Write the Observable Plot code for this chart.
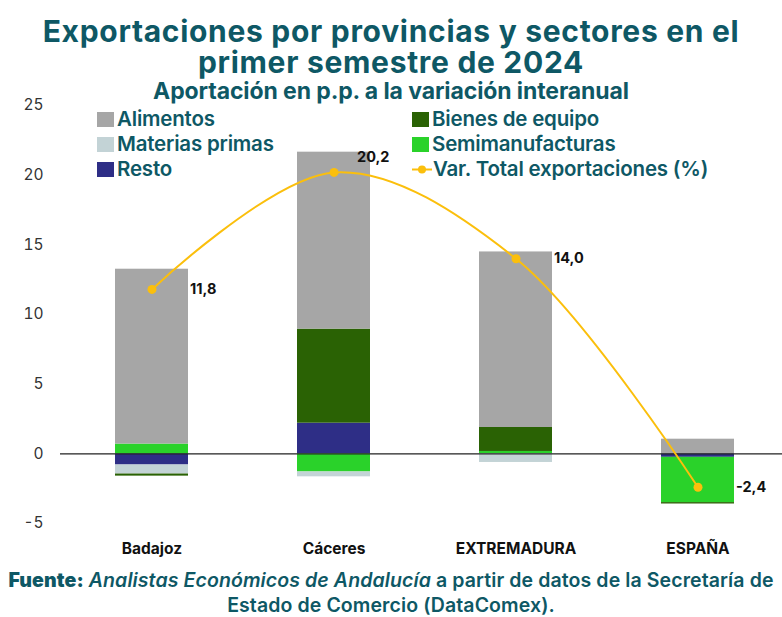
<!DOCTYPE html>
<html>
<head>
<meta charset="utf-8">
<script src="https://cdn.jsdelivr.net/npm/d3@7"></script>
<script src="https://cdn.jsdelivr.net/npm/@observablehq/plot@0.6"></script>
<style>
  body { margin: 0; background: #fff; font-family: Inter, "Open Sans", sans-serif; }
  #wrap { position: relative; width: 782px; height: 617px; overflow: hidden; }
  .tl { position: absolute; left: 0; width: 782px; text-align: center; white-space: nowrap;
    color: #0e5865; font-weight: 700; font-size: 30px; line-height: 30px; letter-spacing: 0.7px; }
  #subtitle { position: absolute; left: 0; top: 80px; width: 782px; text-align: center;
    color: #0e5865; font-weight: 700; font-size: 23px; line-height: 22px; letter-spacing: -0.1px; }
  #chart { position: absolute; left: 0; top: 95px; }
  #legend { position: absolute; left: 0; top: 108px; width: 782px; height: 80px; pointer-events: none; }
  .li { position: absolute; display: flex; align-items: center; color: #0e5865; font-size: 20.5px; font-weight: 600; white-space: nowrap; letter-spacing: -0.2px; line-height: 22px; }
  .sw { width: 17px; height: 15px; margin-right: 3px; }
  .cl { position: absolute; left: 0; width: 782px; text-align: center; white-space: nowrap;
    color: #0e5865; font-weight: 600; font-size: 19.5px; line-height: 24px; letter-spacing: 0.1px; }
</style>
</head>
<body>
<div id="wrap">
  <div class="tl" style="top:16px">Exportaciones por provincias y sectores en el</div>
  <div class="tl" style="top:47px">primer semestre de 2024</div>
  <div id="subtitle">Aportación en p.p. a la variación interanual</div>
  <div id="chart"></div>
  <div id="legend"></div>
  <div class="cl" style="top:568px"><b>Fuente:</b> <i>Analistas Económicos de Andalucía</i> a partir de datos de la Secretaría de</div>
  <div class="cl" style="top:593px">Estado de Comercio (DataComex).</div>
</div>
<script>
const categories = ["Badajoz", "Cáceres", "EXTREMADURA", "ESPAÑA"];
const seriesNames = ["Resto", "Semimanufacturas", "Materias primas", "Bienes de equipo", "Alimentos"];
const alimentos = [12.55, 12.7, 12.6, 1.05];
const bienesEquipo = [-0.15, 6.75, 1.72, -0.1];
const semimanufacturas = [0.7, -1.3, 0.17, -3.25];
const materiasPrimas = [-0.65, -0.35, -0.62, 0];
const resto = [-0.8, 2.2, 0, -0.25];
const totalVar = [11.8, 20.2, 14.0, -2.4];
const totalLabels = ["11,8", "20,2", "14,0", "-2,4"];
const yTicks = [-5, 0, 5, 10, 15, 20, 25];

const colors = {
  "Alimentos": "#a6a6a6",
  "Bienes de equipo": "#2a6204",
  "Materias primas": "#c3d3d6",
  "Semimanufacturas": "#2ad22a",
  "Resto": "#2e2e86"
};
const lineColor = "#fbbf0c";

const seriesValues = {
  "Resto": resto,
  "Semimanufacturas": semimanufacturas,
  "Materias primas": materiasPrimas,
  "Bienes de equipo": bienesEquipo,
  "Alimentos": alimentos
};
const rows = [];
for (const s of seriesNames) {
  categories.forEach((c, i) => rows.push({cat: c, serie: s, value: seriesValues[s][i]}));
}
const totals = categories.map((c, i) => ({cat: c, value: totalVar[i], label: totalLabels[i], i}));

const chart = Plot.plot({
  width: 782,
  height: 468,
  marginTop: 10,
  marginBottom: 40,
  marginLeft: 60,
  marginRight: 0,
  style: {fontFamily: "Inter, sans-serif", fontSize: "15px", color: "#222"},
  x: {domain: categories, paddingInner: 0.6, paddingOuter: 0.273, align: 0.53, label: null},
  y: {domain: [-5, 25], label: null},
  color: {domain: Object.keys(colors), range: Object.values(colors)},
  marks: [
    Plot.barY(rows, Plot.stackY({order: seriesNames, x: "cat", y: "value", z: "serie", fill: "serie"})),
    Plot.ruleY([0], {stroke: "#222", strokeWidth: 1.2}),
    Plot.axisY({ticks: yTicks, tickSize: 0, tickPadding: 17, fontSize: 15.5, fill: "#333", tickFormat: d => String(d)}),
    Plot.axisX({tickSize: 0, tickPadding: 19, fontSize: 15.5, fontWeight: 700, fill: "#111"}),
    Plot.line(totals, {x: "cat", y: "value", stroke: lineColor, strokeWidth: 2, curve: "catmull-rom"}),
    Plot.dot(totals, {x: "cat", y: "value", fill: lineColor, r: 4.5}),
    Plot.text(totals.filter(d => d.i !== 1), {x: "cat", y: "value", text: "label", dx: 38, textAnchor: "start", fontWeight: 700, fontSize: 14.5, fill: "#111"}),
    Plot.text(totals.filter(d => d.i === 1), {x: "cat", y: "value", text: "label", dx: 23, dy: -15, textAnchor: "start", fontWeight: 700, fontSize: 14.5, fill: "#111"})
  ]
});
document.getElementById("chart").appendChild(chart);

// Legend
const legendItems = [
  {name: "Alimentos", left: 97, top: 0},
  {name: "Materias primas", left: 97, top: 25},
  {name: "Resto", left: 97, top: 50},
  {name: "Bienes de equipo", left: 412, top: 0},
  {name: "Semimanufacturas", left: 412, top: 25},
  {name: "Var. Total exportaciones (%)", left: 412, top: 50, line: true}
];
const leg = document.getElementById("legend");
for (const it of legendItems) {
  const d = document.createElement("div");
  d.className = "li";
  d.style.left = it.left + "px";
  d.style.top = it.top + "px";
  if (it.line) {
    d.innerHTML = `<svg width="20" height="15" style="margin-right:1px"><line x1="0" x2="20" y1="7.5" y2="7.5" stroke="${lineColor}" stroke-width="2"/><circle cx="10" cy="7.5" r="4" fill="${lineColor}"/></svg>`;
  } else {
    d.innerHTML = `<div class="sw" style="background:${colors[it.name]}"></div>`;
  }
  const t = document.createElement("span");
  t.textContent = it.name;
  d.appendChild(t);
  leg.appendChild(d);
}
</script>
</body>
</html>
